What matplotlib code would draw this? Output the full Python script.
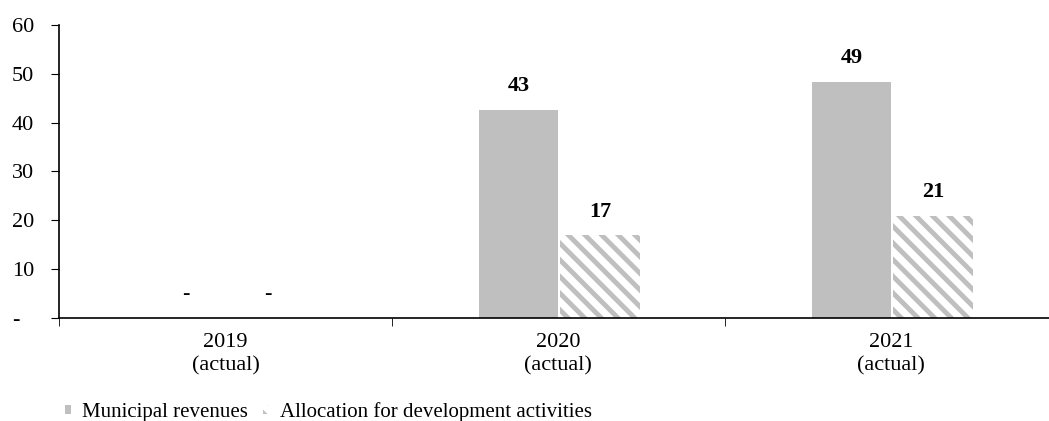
import matplotlib
matplotlib.use("Agg")
import matplotlib.pyplot as plt
import numpy as np

plt.rcParams['font.family'] = ['Liberation Serif', 'DejaVu Serif']
plt.rcParams['hatch.linewidth'] = 3.5
plt.rcParams['hatch.color'] = '#BFBFBF'

# data
categories = ['2019\n(actual)', '2020\n(actual)', '2021\n(actual)']
municipal = [0, 42.6, 48.3]
allocation = [0, 16.9, 20.8]
municipal_labels = ['-', '43', '49']
allocation_labels = ['-', '17', '21']
yticks = [0, 10, 20, 30, 40, 50, 60]
ytick_labels = ['-', '10', '20', '30', '40', '50', '60']

fig = plt.figure(figsize=(10.49, 4.21), dpi=100)
# the x axis runs a little past the right edge of the picture
ax = fig.add_axes([0.0562, 0.2447, 0.9523, 0.6959])

x = np.arange(len(categories))
w = 0.24
gap = 0.003
b1 = ax.bar(x - w / 2, municipal, w, color='#BFBFBF', label='Municipal revenues')
b2 = ax.bar(x + w / 2 + 2 * gap, allocation, w, color='white', edgecolor='#BFBFBF',
            linewidth=0, hatch='\\\\', label='Allocation for development activities')

for bars, labels in [(b1, municipal_labels), (b2, allocation_labels)]:
    for bar, lab in zip(bars, labels):
        ax.text(bar.get_x() + bar.get_width() / 2, bar.get_height() + 4.9, lab,
                ha='center', va='center', fontsize=16, fontweight='bold')

ax.set_xlim(-0.5, len(categories) - 0.5)
ax.set_ylim(0, 60)
ax.set_yticks(yticks)
ax.set_yticklabels(ytick_labels, fontsize=16)
ax.set_xticks(x)
ax.set_xticklabels(categories, fontsize=16, linespacing=1.3)
ax.tick_params(axis='x', length=0, pad=11)
ax.set_xticks(np.arange(len(categories) + 1) - 0.5, minor=True)
ax.tick_params(axis='x', which='minor', length=6, direction='out')
ax.tick_params(axis='y', length=6, direction='out', pad=28)
for lab in ax.get_yticklabels():
    lab.set_horizontalalignment('left')
ax.spines['top'].set_visible(False)
ax.spines['right'].set_visible(False)
ax.spines['left'].set_linewidth(1.2)
ax.spines['bottom'].set_linewidth(1.2)

leg = fig.legend(handles=[b1, b2], loc='lower left', bbox_to_anchor=(0.060, -0.008),
                 ncol=2, frameon=False, fontsize=15, handlelength=0.3, handleheight=0.3,
                 handletextpad=0.5, columnspacing=0.75, borderpad=0.1, borderaxespad=0)

fig.savefig('out.png', dpi=100)
